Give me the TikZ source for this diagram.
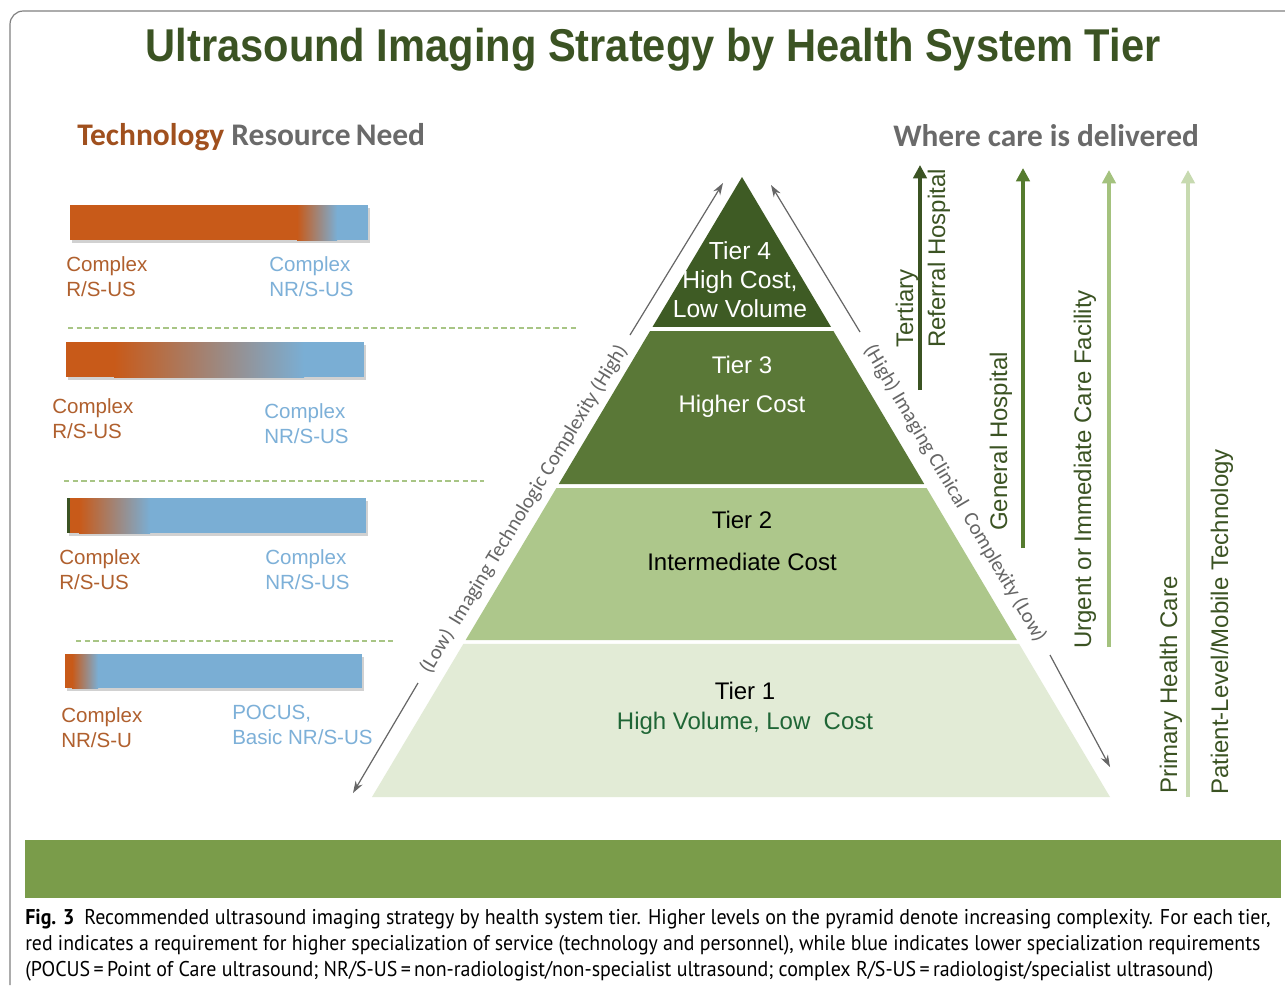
\documentclass[tikz,border=0pt]{standalone}
\usepackage{fontspec}
\setmainfont{Liberation Sans}
\newfontfamily\calfont{Carlito}
\newfontfamily\capfont{PT Sans}
\usetikzlibrary{arrows.meta,calc}
\definecolor{titlegreen}{HTML}{3B5323}
\definecolor{tfour}{HTML}{3E5B24}
\definecolor{tthree}{HTML}{5A7837}
\definecolor{ttwo}{HTML}{ADC78B}
\definecolor{tone}{HTML}{E2EBD6}
\definecolor{bandgreen}{HTML}{7A9C4A}
\definecolor{orng}{HTML}{C85A19}
\definecolor{blu}{HTML}{7AAED4}
\definecolor{lblbrown}{HTML}{B0602E}
\definecolor{lblblue}{HTML}{7DB0D8}
\definecolor{headbrown}{HTML}{A0501E}
\definecolor{headgray}{HTML}{6A6A6A}
\definecolor{dashgreen}{HTML}{A8C585}
\definecolor{axisgray}{HTML}{666666}
\definecolor{aone}{HTML}{3B5323}
\definecolor{atwo}{HTML}{557B2E}
\definecolor{athree}{HTML}{A4C27E}
\definecolor{afour}{HTML}{C7DAB0}
\definecolor{tonetext}{HTML}{1F6636}
\definecolor{framegray}{HTML}{808080}
\begin{document}
\begin{tikzpicture}[x=0.75pt,y=-0.75pt,
  lbl/.style={font=\fontsize{15.4}{18.75}\selectfont, align=left, anchor=west, inner sep=0pt},
  brn/.style={lbl, text=lblbrown},
  bluelbl/.style={lbl, text=lblblue},
  dashln/.style={draw=dashgreen, line width=1.3pt, dash pattern=on 4pt off 2.5pt},
  axisarrow/.style={draw=axisgray, line width=0.9pt, -{Stealth[length=9pt,width=6pt]}},
  axislbl/.style={font=\calfont\fontsize{15.5}{18}\selectfont, text=axisgray, sloped, inner sep=0pt},
  vlbl/.style={font=\fontsize{18}{22.5}\selectfont, text=titlegreen, rotate=90, anchor=west, inner sep=0pt, align=left},
  varrow/.style={line width=3pt, -{Triangle[length=10pt,width=10pt]}},
  tiertxt/.style={font=\fontsize{18.5}{22}\selectfont, align=center, inner sep=0pt},
  shadowbox/.style={fill=black!40, opacity=0.45},
  capline/.style={font=\capfont\fontsize{16}{19}\selectfont, anchor=west, inner sep=0pt}
]
\useasboundingbox (0,0) rectangle (1285,989);
\fill[white] (0,0) rectangle (1285,989);
% frame
\draw[framegray, line width=0.9pt, rounded corners=10pt] (10,985) -- (10,11) -- (1285,11);

% title
\node[text=titlegreen, font=\bfseries\fontsize{34.5}{40}\selectfont, inner sep=0pt] (title) at (653,50) {\scalebox{0.905}[1]{Ultrasound Imaging Strategy by Health System Tier}};

% headings
\node[font=\calfont\bfseries\fontsize{23.6}{28}\selectfont, anchor=west, inner sep=0pt] (techhead) at (77,137) {\textcolor{headbrown}{Technology} \textcolor{headgray}{Resource\,Need}};
\node[font=\calfont\bfseries\fontsize{23.5}{28}\selectfont, text=headgray, anchor=west, inner sep=0pt] (wherehead) at (893,136) {Where care is delivered};

% bar 1
\fill[shadowbox] (72,208) rectangle (370,243);
\fill[orng] (70,205) rectangle (297,240);
\shade[left color=orng, right color=blu] (297,205) rectangle (337,240);
\fill[blu] (337,205) rectangle (368,240);
\node[brn] (b1l) at (66,277) {Complex\\R/S-US};
\node[bluelbl] (b1r) at (269,277) {Complex\\NR/S-US};
\draw[dashln] (68,328) -- (578,328);

% bar 2
\fill[shadowbox] (68,345) rectangle (366,380);
\fill[orng] (66,342) rectangle (114,377);
\shade[left color=orng, right color=blu] (114,342) rectangle (304,377);
\fill[blu] (304,342) rectangle (364,377);
\node[brn] (b2l) at (52,419) {Complex\\R/S-US};
\node[bluelbl] (b2r) at (264,424) {Complex\\NR/S-US};
\draw[dashln] (64,481) -- (484,481);

% bar 3
\fill[shadowbox] (69,501) rectangle (368,536);
\fill[orng] (67,498) rectangle (79,533);
\shade[left color=orng, right color=blu] (79,498) rectangle (150,533);
\fill[blu] (150,498) rectangle (366,533);
\fill[titlegreen] (67,498) rectangle (70,533);
\node[brn] (b3l) at (59,570) {Complex\\R/S-US};
\node[bluelbl] (b3r) at (265,570) {Complex\\NR/S-US};
\draw[dashln] (76,641) -- (394,641);

% bar 4
\fill[shadowbox] (67,657) rectangle (364,691);
\fill[orng] (65,654) rectangle (72,688);
\shade[left color=orng, right color=blu] (72,654) rectangle (98,688);
\fill[blu] (98,654) rectangle (362,688);
\node[brn] (b4l) at (61,728) {Complex\\NR/S-U};
\node[bluelbl] (b4r) at (232,725) {POCUS,\\Basic NR/S-US};

% pyramid
\coordinate (apex) at (742,177);
\coordinate (bl) at (372,797);
\coordinate (br) at (1110,797);
\fill[tfour] (apex) -- ($(apex)!0.2419!(bl)$) -- ($(apex)!0.2419!(br)$) -- cycle;
\fill[tthree] ($(apex)!0.2484!(bl)$) -- ($(apex)!0.4952!(bl)$) -- ($(apex)!0.4952!(br)$) -- ($(apex)!0.2484!(br)$) -- cycle;
\fill[ttwo] ($(apex)!0.5016!(bl)$) -- ($(apex)!0.7468!(bl)$) -- ($(apex)!0.7468!(br)$) -- ($(apex)!0.5016!(br)$) -- cycle;
\fill[tone] ($(apex)!0.7532!(bl)$) -- (bl) -- (br) -- ($(apex)!0.7532!(br)$) -- cycle;

\node[tiertxt, text=white, font=\fontsize{18.5}{21.75}\selectfont] (t4) at (740,280) {Tier 4\\High Cost,\\Low Volume};
\node[tiertxt, text=white, font=\fontsize{18}{29}\selectfont] (t3) at (742,387) {Tier 3\\Higher Cost};
\node[tiertxt, text=black, font=\fontsize{18}{31.5}\selectfont] (t2) at (742,541) {Tier 2\\Intermediate Cost};
\node[tiertxt, text=black, font=\fontsize{18}{22.5}\selectfont] (t1) at (745,708) {Tier 1\\\textcolor{tonetext}{High Volume, Low\ \ Cost}};

% left axis
\coordinate (L1) at (353,793);
\coordinate (L2) at (418,683);
\coordinate (L3) at (630,335);
\coordinate (L4) at (723,183);
\draw[axisarrow] (L2) -- (L1);
\draw[axisarrow] (L3) -- (L4);
\path (L2) -- (L3) node[axislbl, midway] (leftaxis) {(Low)\ \ Imaging Technologic Complexity (High)};

% right axis
\coordinate (R1) at (771,185);
\coordinate (R2) at (860,332);
\coordinate (R3) at (1050,655);
\coordinate (R4) at (1110,767);
\draw[axisarrow] (R2) -- (R1);
\draw[axisarrow] (R3) -- (R4);
\path (R2) -- (R3) node[axislbl, midway] (rightaxis) {(High) Imaging Clinical\ \ Complexity (Low)};

% care delivery arrows
\coordinate (c1b) at (920,390); \coordinate (c1t) at (920,165);
\coordinate (c2b) at (1023,548); \coordinate (c2t) at (1023,168);
\coordinate (c3b) at (1109,647); \coordinate (c3t) at (1109,170);
\coordinate (c4b) at (1188,797); \coordinate (c4t) at (1188,170);
\draw[varrow, aone] (c1b) -- (c1t);
\draw[varrow, atwo] (c2b) -- (c2t);
\draw[varrow, athree] (c3b) -- (c3t);
\draw[varrow, afour] (c4b) -- (c4t);
\node[vlbl, font=\fontsize{18}{24}\selectfont] (tert) at (923,348) {Tertiary\\Referral Hospital};
\node[vlbl] (genh) at (1001,531) {General Hospital};
\node[vlbl] (urg) at (1085,649) {Urgent or Immediate Care Facility};
\node[vlbl] (phc) at (1171,794) {Primary Health Care};
\node[vlbl] (plm) at (1222,795) {Patient-Level/Mobile Technology};

% green band
\fill[bandgreen] (25,840) rectangle (1281,898);

% caption
\node[capline] (cap1) at (25,919) {\scalebox{0.935}[1]{\textbf{Fig. 3}\enspace Recommended ultrasound imaging strategy by health system tier. Higher levels on the pyramid denote increasing complexity. For each tier,}};
\node[capline] (cap2) at (25,945) {\scalebox{0.928}[1]{red indicates a requirement for higher specialization of service (technology and personnel), while blue indicates lower specialization requirements}};
\node[capline] (cap3) at (25,971) {\scalebox{0.935}[1]{(POCUS\,=\,Point of Care ultrasound; NR/S-US\,=\,non-radiologist/non-specialist ultrasound; complex R/S-US\,=\,radiologist/specialist ultrasound)}};
\end{tikzpicture}
\end{document}
